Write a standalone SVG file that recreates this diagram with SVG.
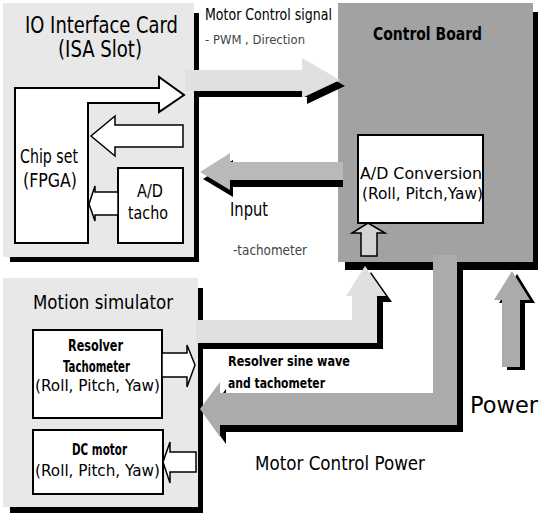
<svg xmlns="http://www.w3.org/2000/svg" width="543" height="519" viewBox="0 0 543 519">
<style>
text { font-family: "DejaVu Sans", "Liberation Sans", sans-serif; fill:#000; }
.card { fill:#e8e8e8; }
.board { fill:#a2a2a2; }
.shadow { fill:#000; }
.box { fill:#fff; stroke:#000; stroke-width:2; }
.hollow { fill:#fff; stroke:#000; stroke-width:1.5; stroke-linejoin:miter; }
.hollow-gray { fill:#d4d4d4; stroke:#000; stroke-width:1.5; }
.arrow-light { fill:#e0e0e0; }
.arrow-mid { fill:#b9b9b9; }
.arrow-dark { fill:#ababab; }
.grey { fill:#444; }
</style>
<rect width="543" height="519" fill="#fff"/>

<g id="io-card">
  <rect class="shadow" x="10" y="13" width="189" height="249"/>
  <rect class="card" x="3" y="3" width="191" height="254"/>
  <text x="25" y="33" font-size="23" textLength="153" lengthAdjust="spacingAndGlyphs" fill="#1a1a1a">IO Interface Card</text>
  <text x="58" y="57" font-size="23" textLength="84" lengthAdjust="spacingAndGlyphs" fill="#1a1a1a">(ISA Slot)</text>
</g>

<g id="control-board">
  <rect class="shadow" x="345" y="12" width="193" height="258"/>
  <rect class="board" x="338" y="3" width="195" height="259"/>
  <text x="373" y="40" font-size="17" font-weight="bold" textLength="109" lengthAdjust="spacingAndGlyphs" fill="#111">Control Board</text>
</g>

<g id="motion-simulator">
  <rect class="shadow" x="10" y="288" width="193" height="225"/>
  <rect class="card" x="3" y="278" width="195" height="229"/>
  <text x="33" y="309" font-size="20" textLength="140" lengthAdjust="spacingAndGlyphs">Motion simulator</text>
</g>

<g id="chip-set">
  <path class="box" d="M15,88 H159 V77 L184,95 L159,112 V103 H88 V243 H15 Z"/>
  <text x="20" y="163" font-size="19" textLength="58" lengthAdjust="spacingAndGlyphs">Chip set</text>
  <text x="23" y="187" font-size="19" textLength="54" lengthAdjust="spacingAndGlyphs">(FPGA)</text>
</g>

<g id="ad-tacho">
  <rect class="box" x="118" y="168" width="65" height="75"/>
  <text x="137" y="197" font-size="18" textLength="26" lengthAdjust="spacingAndGlyphs">A/D</text>
  <text x="128" y="219" font-size="18" textLength="40" lengthAdjust="spacingAndGlyphs">tacho</text>
</g>

<g id="ad-conversion">
  <rect class="box" x="358" y="135" width="125" height="88"/>
  <text x="360" y="179" font-size="16" textLength="122" lengthAdjust="spacingAndGlyphs">A/D Conversion</text>
  <text x="362" y="199" font-size="16" textLength="121" lengthAdjust="spacingAndGlyphs">(Roll, Pitch,Yaw)</text>
</g>

<g id="resolver-tachometer">
  <rect class="box" x="33" y="330" width="129" height="88"/>
  <text x="68" y="351" font-size="15" font-weight="bold" textLength="55" lengthAdjust="spacingAndGlyphs">Resolver</text>
  <text x="63" y="372" font-size="15" font-weight="bold" textLength="67" lengthAdjust="spacingAndGlyphs">Tachometer</text>
  <text x="35" y="391" font-size="15" textLength="125" lengthAdjust="spacingAndGlyphs">(Roll, Pitch, Yaw)</text>
</g>

<g id="dc-motor">
  <rect class="box" x="33" y="430" width="130" height="64"/>
  <text x="72" y="455" font-size="15" font-weight="bold" textLength="55" lengthAdjust="spacingAndGlyphs">DC motor</text>
  <text x="35" y="476" font-size="15" textLength="125" lengthAdjust="spacingAndGlyphs">(Roll, Pitch, Yaw)</text>
</g>

<g id="power-source">
  <text x="470" y="413" font-size="23" textLength="68" lengthAdjust="spacingAndGlyphs">Power</text>
</g>

<g id="connectors">
  <!-- Motor control signal: IO card -> control board -->
  <g id="conn-motor-signal">
    <polygon class="shadow" transform="translate(5,6)" points="190,70 302,70 302,58 340,80 302,98 302,91 190,91"/>
    <polygon class="arrow-light" points="185,70 302,70 302,58 340,80 302,98 302,91 185,91"/>
    <text x="205" y="20" font-size="15" textLength="127" lengthAdjust="spacingAndGlyphs">Motor Control signal</text>
    <text class="grey" x="205" y="44" font-size="13" textLength="100" lengthAdjust="spacingAndGlyphs">- PWM , Direction</text>
  </g>
  <!-- Input: control board -> IO card -->
  <g id="conn-input">
    <polygon class="shadow" transform="translate(3,7)" points="200,172 230,153 230,162 340,162 340,180 230,180 230,190"/>
    <polygon class="arrow-mid" points="200,172 230,153 230,162 343,162 343,180 230,180 230,190"/>
    <text x="230" y="216" font-size="19" textLength="38" lengthAdjust="spacingAndGlyphs">Input</text>
    <text class="grey" x="233" y="255" font-size="14" textLength="74" lengthAdjust="spacingAndGlyphs">-tachometer</text>
  </g>
  <!-- inner IO card arrows -->
  <polygon class="hollow" points="183,125 115,125 115,116 91,136 115,156 115,147 183,147"/>
  <polygon class="hollow" points="118,192 95,192 95,186 89,204 95,221 95,215 118,215"/>
  <!-- into A/D conversion -->
  <polygon class="hollow-gray" points="361,256 361,233 352,233 368,223 385,233 377,233 377,256"/>
  <!-- Resolver sine wave and tachometer: motion simulator -> control board -->
  <g id="conn-resolver">
    <polygon class="shadow" transform="translate(6,6)" points="196,320 352,320 352,296 346,296 365,266 386,296 377,296 377,343 196,343"/>
    <polygon class="arrow-light" points="196,320 352,320 352,296 346,296 365,266 386,296 377,296 377,343 196,343"/>
    <text x="228" y="366" font-size="14" font-weight="bold" textLength="122" lengthAdjust="spacingAndGlyphs">Resolver sine wave</text>
    <text x="228" y="388" font-size="14" font-weight="bold" textLength="97" lengthAdjust="spacingAndGlyphs">and tachometer</text>
  </g>
  <!-- Motor control power: control board -> motion simulator -->
  <g id="conn-motor-power">
    <polygon class="shadow" transform="translate(6,7)" points="433,262 457,262 457,425 220,425 220,437 200,409 220,382 220,393 433,393"/>
    <polygon class="arrow-dark" points="433,255 457,255 457,425 220,425 220,437 200,409 220,382 220,393 433,393"/>
    <text x="255" y="470" font-size="19" textLength="170" lengthAdjust="spacingAndGlyphs">Motor Control Power</text>
  </g>
  <!-- motion simulator inner arrows -->
  <polygon class="hollow" points="162,353 187,353 187,345 195,365 187,387 187,377 162,377"/>
  <polygon class="hollow" points="196,452 170,452 170,442 163,462 170,483 170,472 196,472"/>
  <!-- Power -->
  <g id="conn-power">
    <polygon class="shadow" transform="translate(5,3)" points="502,367 502,300 494,300 512,271 530,300 520,300 520,367"/>
    <polygon class="arrow-dark" points="502,367 502,300 494,300 512,271 530,300 520,300 520,367"/>
  </g>
</g>
</svg>
